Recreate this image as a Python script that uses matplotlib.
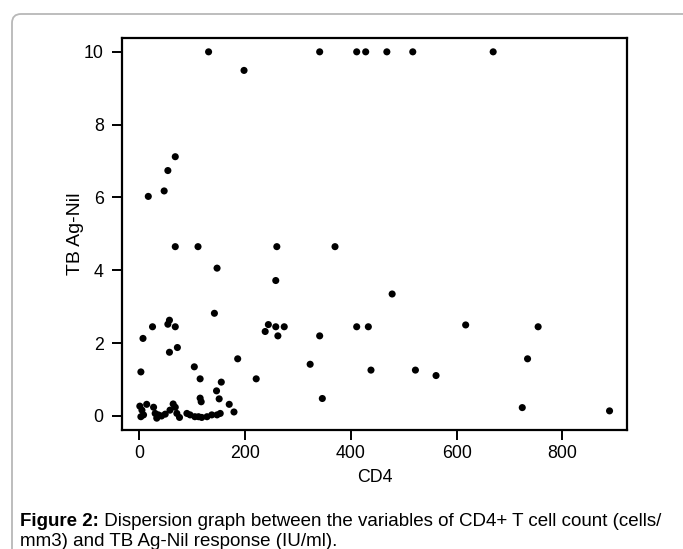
import matplotlib
matplotlib.use("Agg")
import matplotlib.pyplot as plt
from matplotlib.patches import FancyBboxPatch
from matplotlib.transforms import IdentityTransform

plt.rcParams['font.family'] = ['Liberation Sans', 'DejaVu Sans']

# CD4 count (cells/mm3) and TB Ag-Nil response (IU/ml)
cd4 = [
    131, 341, 411, 428, 468, 517, 669,          # capped at 10
    198,                                          # 9.5
    68, 54, 47, 17,                               # 6-7
    68, 111, 147, 260, 258, 370, 478,            # 3.3-4.7
    142, 57, 54, 68, 25, 7, 3, 57, 72,           # low-mid left
    244, 238, 258, 274, 262, 341, 411, 433, 617, 754,
    186, 323, 734, 438, 522, 561, 221, 104, 115, 155,
    146, 151, 170, 179, 346, 724, 889,
    115, 117,
    1, 14, 5, 8, 3, 27, 30, 36, 33, 42, 49,
    58, 64, 68, 71, 76, 90, 96, 105, 112, 118, 128, 137, 147, 153,
]
tb_ag_nil = [
    10, 10, 10, 10, 10, 10, 10,
    9.49,
    7.12, 6.74, 6.18, 6.03,
    4.65, 4.65, 4.06, 4.65, 3.72, 4.65, 3.35,
    2.82, 2.63, 2.52, 2.45, 2.45, 2.13, 1.21, 1.75, 1.88,
    2.51, 2.32, 2.45, 2.45, 2.20, 2.20, 2.45, 2.45, 2.50, 2.45,
    1.57, 1.42, 1.57, 1.26, 1.26, 1.11, 1.02, 1.35, 1.02, 0.93,
    0.69, 0.47, 0.32, 0.11, 0.48, 0.23, 0.14,
    0.49, 0.39,
    0.27, 0.32, 0.16, 0.03, -0.02, 0.24, 0.07, 0.03, -0.06, 0.0, 0.05,
    0.16, 0.33, 0.24, 0.07, -0.04, 0.07, 0.03, -0.02, -0.02, -0.04, -0.02, 0.03, 0.03, 0.07,
]
x_ticks = [0, 200, 400, 600, 800]
y_ticks = [0, 2, 4, 6, 8, 10]
x_label = "CD4"
y_label = "TB Ag-Nil"
caption_bold = "Figure 2:"
caption_line1 = " Dispersion graph between the variables of CD4+ T cell count (cells/"
caption_line2 = "mm3) and TB Ag-Nil response (IU/ml)."

W, H = 683, 549
fig = plt.figure(figsize=(W / 100, H / 100), dpi=100)
fig.patch.set_facecolor('white')

# outer rounded panel border
panel = FancyBboxPatch((12, -30), 760, (H - 14) + 30,
                       boxstyle="round,pad=0,rounding_size=9",
                       transform=IdentityTransform(), fill=False,
                       edgecolor='#b8b8b8', linewidth=1.3)
fig.patches.append(panel)

ax = fig.add_axes([122 / W, 1 - 430 / H, (627 - 122) / W, (430 - 38) / H])
ax.scatter(cd4, tb_ag_nil, s=26, color='black', edgecolors='none', zorder=3)
ax.set_xlim(-32.7, 922)
ax.set_ylim(-0.385, 10.38)
ax.set_xticks(x_ticks)
ax.set_yticks(y_ticks)
for sp in ax.spines.values():
    sp.set_linewidth(1.6)
    sp.set_color('black')
ax.tick_params(axis='both', direction='out', length=7, width=1.4,
               labelsize=12.8, colors='black')
ax.tick_params(axis='y', pad=6.2)
ax.tick_params(axis='x', pad=4)
ax.set_xlabel(x_label, fontsize=12.8, labelpad=5)
ax.set_ylabel(y_label, fontsize=14, labelpad=0)

# caption with bold prefix
renderer = fig.canvas.get_renderer()
t1 = fig.text(20 / W, 1 - 521 / H, caption_bold, fontsize=13.5, fontweight='bold',
              va='center', ha='left')
bb = t1.get_window_extent(renderer=renderer)
fig.text(bb.x1 / W, 1 - 521 / H, caption_line1, fontsize=13.5, va='center', ha='left')
fig.text(20 / W, 1 - 541 / H, caption_line2, fontsize=13.5, va='center', ha='left')

fig.savefig("out.png", dpi=100)
